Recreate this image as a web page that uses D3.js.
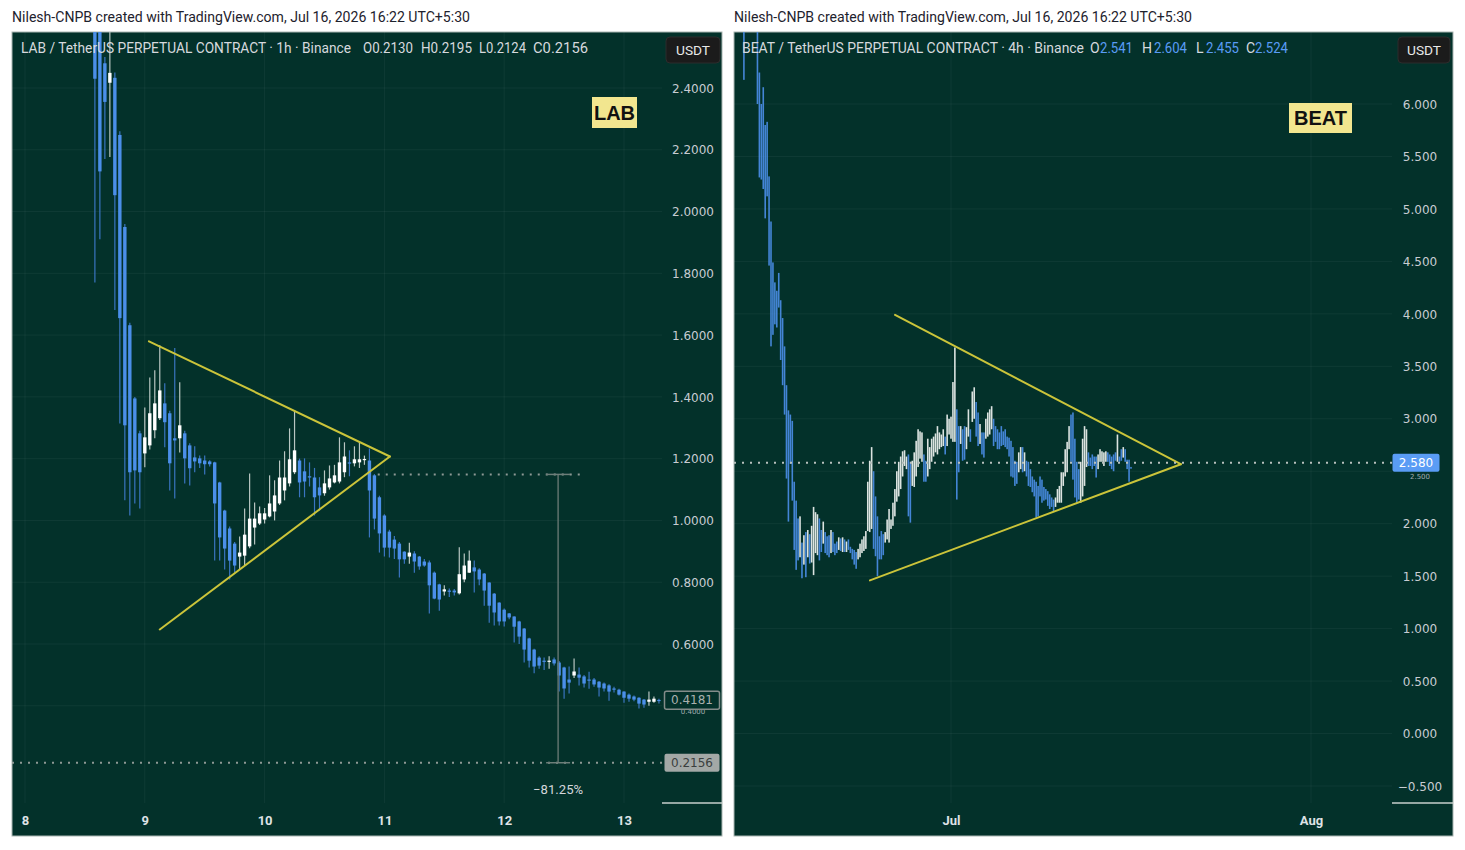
<!DOCTYPE html>
<html><head><meta charset="utf-8">
<script src="https://cdn.jsdelivr.net/npm/d3@7"></script>
<style>body{margin:0;background:#fff;}svg{display:block}</style>
</head><body><svg id="c" width="1465" height="850"></svg>
<script>
// ---------------- DATA ----------------
const creditText = "Nilesh-CNPB created with TradingView.com, Jul 16, 2026 16:22 UTC+5:30";
const labTitle = "LAB / TetherUS PERPETUAL CONTRACT · 1h · Binance";
const beatTitle = "BEAT / TetherUS PERPETUAL CONTRACT · 4h · Binance";
const ohlcKeys = ["O","H","L","C"];
const labOHLC = ["0.2130","0.2195","0.2124","0.2156"];
const beatOHLC = ["2.541","2.604","2.455","2.524"];
const labPriceTicks = [2.4,2.2,2.0,1.8,1.6,1.4,1.2,1.0,0.8,0.6,0.4];
const beatPriceTicks = [6,5.5,5,4.5,4,3.5,3,2.5,2,1.5,1,0.5,0,-0.5];
const labDayLabels = [8,9,10,11,12,13];
const beatMonthLabels = ["Jul","Aug"];
const labLast = 0.4181, labTarget = 0.2156, beatLast = 2.580;
const labMeasureTop = 1.149, labMeasurePct = "\u221281.25%";
// LAB 1h candles [open, high, low, close], first candle day 8 14:00
const labCandles = [
[2.75,2.80,1.77,2.43],[2.62,2.70,1.91,2.13],[2.48,2.50,2.17,2.355],[2.417,2.60,2.177,2.449],[2.433,2.45,1.681,2.053],
[2.248,2.26,1.314,1.655],[1.95,1.96,1.065,1.308],[1.632,1.64,1.016,1.156],[1.395,1.40,1.055,1.162],[1.282,1.29,1.039,1.156],
[1.217,1.366,1.172,1.269],[1.243,1.463,1.23,1.347],[1.292,1.486,1.266,1.379],[1.331,1.567,1.325,1.421],[1.379,1.444,1.237,1.318],
[1.347,1.355,1.097,1.185],[1.266,1.558,1.071,1.259],[1.266,1.447,1.220,1.308],[1.282,1.29,1.120,1.201],[1.243,1.25,1.113,1.169],
[1.204,1.24,1.156,1.191],[1.201,1.21,1.17,1.185],[1.194,1.21,1.149,1.182],[1.191,1.195,1.175,1.182],[1.188,1.19,0.87,1.055],
[1.123,1.125,0.870,0.945],[1.032,1.035,0.841,0.909],[0.974,0.98,0.809,0.870],[0.925,0.93,0.831,0.854],[0.883,0.948,0.841,0.896],
[0.886,1.039,0.854,0.954],[0.916,1.152,0.91,1.006],[0.977,1.058,0.922,1.006],[0.990,1.045,0.985,1.023],[1.003,1.04,0.99,1.023],
[1.013,1.146,1.01,1.055],[1.029,1.13,1.0,1.081],[1.055,1.194,1.05,1.139],[1.097,1.224,1.065,1.139],[1.120,1.298,1.11,1.198],
[1.156,1.356,1.15,1.227],[1.194,1.20,1.075,1.123],[1.159,1.201,1.075,1.126],[1.143,1.188,1.11,1.139],[1.139,1.17,1.016,1.075],
[1.107,1.14,1.032,1.081],[1.088,1.162,1.08,1.120],[1.107,1.178,1.10,1.136],[1.123,1.18,1.12,1.146],[1.126,1.269,1.12,1.188],
[1.156,1.253,1.14,1.207],[1.188,1.227,1.143,1.184],[1.185,1.240,1.175,1.198],[1.188,1.253,1.17,1.198],[1.196,1.21,1.18,1.199],
[1.194,1.233,0.945,1.097],[1.146,1.15,0.971,1.006],[1.075,1.08,0.896,0.958],[1.016,1.02,0.883,0.912],[0.964,0.97,0.88,0.912],
[0.938,0.95,0.875,0.909],[0.925,0.93,0.815,0.874],[0.899,0.90,0.86,0.874],[0.883,0.928,0.86,0.896],[0.893,0.90,0.831,0.867],
[0.883,0.885,0.84,0.851],[0.867,0.875,0.85,0.854],[0.864,0.87,0.699,0.790],[0.831,0.835,0.745,0.747],[0.793,0.795,0.708,0.744],
[0.770,0.79,0.757,0.777],[0.773,0.78,0.752,0.770],[0.773,0.778,0.757,0.767],[0.764,0.913,0.76,0.826],[0.809,0.893,0.80,0.854],
[0.831,0.903,0.83,0.870],[0.848,0.870,0.767,0.835],[0.841,0.845,0.79,0.809],[0.828,0.83,0.724,0.773],[0.799,0.80,0.669,0.724],
[0.763,0.765,0.66,0.702],[0.734,0.735,0.66,0.673],[0.711,0.715,0.657,0.673],[0.699,0.70,0.68,0.686],[0.689,0.69,0.605,0.656],
[0.673,0.675,0.60,0.624],[0.650,0.652,0.540,0.582],[0.618,0.62,0.524,0.546],[0.582,0.585,0.505,0.527],[0.556,0.56,0.52,0.530],
[0.546,0.556,0.516,0.543],[0.543,0.56,0.52,0.546],[0.550,0.556,0.53,0.537],[0.540,0.545,0.446,0.498],[0.524,0.526,0.423,0.456],
[0.485,0.527,0.44,0.475],[0.498,0.553,0.49,0.511],[0.501,0.524,0.466,0.491],[0.495,0.50,0.459,0.472],[0.485,0.51,0.455,0.482],
[0.485,0.49,0.462,0.469],[0.478,0.48,0.43,0.459],[0.472,0.475,0.446,0.456],[0.466,0.47,0.416,0.446],[0.456,0.462,0.443,0.452],
[0.452,0.455,0.433,0.436],[0.446,0.447,0.41,0.426],[0.436,0.44,0.413,0.423],[0.430,0.433,0.415,0.420],[0.426,0.428,0.391,0.407],
[0.420,0.422,0.394,0.404],[0.413,0.446,0.40,0.420],[0.413,0.43,0.41,0.423],[0.4190,0.423,0.407,0.4181]
];
// BEAT 4h candles [open, close], first candle Jun 13 04:00
const beatCandles = [
[7.20,6.23],[7.30,7.05],[7.05,7.35],[7.35,7.00],[7.00,7.20],[7.20,6.90],[6.95,6.78],[6.85,6.00],[6.30,5.30],[6.00,5.28],
[6.16,5.19],[5.80,4.91],[5.83,5.12],[5.31,4.46],[4.88,3.69],[4.49,3.80],[4.30,3.90],[4.22,3.87],[4.39,4.06],[4.13,3.56],
[3.96,3.32],[3.69,3.04],[3.32,2.43],[3.08,2.02],[3.04,2.57],[2.98,2.22],[2.40,1.75],[2.22,1.56],[2.05,1.65],[1.68,2.07],
[1.82,1.48],[1.61,1.89],[1.92,1.49],[1.68,1.94],[1.90,1.62],[1.63,1.98],[1.51,2.16],[1.72,2.11],[1.70,2.09],[2.05,1.65],
[1.94,1.73],[1.81,2.02],[1.92,1.72],[1.88,1.70],[1.89,1.68],[1.72,1.94],[1.92,1.73],[1.81,1.70],[1.83,1.72],[1.75,1.87],
[1.86,1.74],[1.73,1.87],[1.85,1.73],[1.73,1.83],[1.85,1.75],[1.78,1.72],[1.76,1.66],[1.75,1.61],[1.73,1.57],[1.66,1.76],
[1.68,1.81],[1.72,1.85],[1.74,1.88],[1.76,1.93],[1.93,2.40],[1.92,2.60],[1.95,2.73],[2.50,1.76],[2.26,1.69],[2.07,1.50],
[1.88,1.66],[1.93,1.66],[1.90,1.70],[1.82,1.92],[1.85,2.04],[1.82,2.14],[1.95,2.04],[1.98,2.20],[2.07,2.33],[2.21,2.50],
[2.26,2.59],[2.33,2.64],[2.45,2.69],[2.55,2.70],[2.52,2.64],[2.66,2.07],[2.59,2.01],[2.36,2.60],[2.35,2.68],[2.45,2.79],
[2.54,2.90],[2.62,2.88],[2.59,2.87],[2.66,2.40],[2.60,2.40],[2.45,2.81],[2.52,2.73],[2.59,2.81],[2.64,2.83],[2.68,2.86],
[2.66,2.93],[2.71,2.87],[2.73,2.85],[2.74,2.90],[2.83,2.66],[2.74,3.04],[2.85,3.00],[2.81,3.02],[2.78,3.35],[2.78,3.68],
[3.09,2.23],[2.93,2.49],[2.76,2.93],
[2.90,2.60],[2.93,2.61],[2.71,2.92],[2.83,3.09],[2.90,2.78],[2.97,3.26],[3.00,3.30],[3.16,2.83],[3.06,2.74],[2.76,2.95],
[2.87,2.66],[2.87,2.63],[2.81,3.00],[2.83,3.06],[2.85,3.09],[2.90,3.12],[3.00,2.74],[2.93,2.78],[2.90,2.71],[2.87,2.71],
[2.93,2.74],[2.88,2.75],[2.90,2.73],[2.83,2.71],[2.82,2.64],[2.79,2.45],[2.73,2.44],[2.60,2.36],[2.59,2.38],[2.49,2.68],
[2.52,2.73],[2.73,2.49],[2.50,2.68],[2.60,2.45],[2.59,2.36],[2.52,2.35],[2.45,2.30],[2.42,2.26],[2.40,2.06],[2.36,2.07],
[2.45,2.26],[2.42,2.20],[2.35,2.22],[2.33,2.23],[2.31,2.17],[2.28,2.14],[2.25,2.16],[2.23,2.12],[2.16,2.25],[2.20,2.33],
[2.20,2.36],[2.20,2.49],[2.36,2.49],[2.45,2.71],[2.49,2.78],[2.71,2.93],[3.04,2.59],[3.06,2.42],[2.81,2.25],[2.59,2.20],
[2.52,2.23],[2.20,2.59],[2.26,2.81],[2.36,2.93],[2.54,2.90],[2.68,2.55],[2.63,2.55],[2.66,2.52],[2.64,2.55],[2.64,2.44],
[2.52,2.66],[2.59,2.71],[2.59,2.69],[2.55,2.68],[2.59,2.69],[2.68,2.59],[2.66,2.55],[2.64,2.52],[2.66,2.50],[2.68,2.60],
[2.59,2.85],[2.64,2.59],[2.71,2.60],[2.63,2.73],[2.71,2.59],[2.61,2.52],[2.61,2.40],[2.541,2.524]
];
// Triangle pattern lines: [time, price] of start points and apex
const labTriUpper = [[Date.UTC(2026,6,9,0,50),1.580],[Date.UTC(2026,6,11,1,6),1.207]];
const labTriLower = [[Date.UTC(2026,6,9,3,0),0.647],[Date.UTC(2026,6,11,1,6),1.207]];
const beatTriUpper = [[Date.UTC(2026,5,26,4,20),3.99],[Date.UTC(2026,6,20,19,0),2.567]];
const beatTriLower = [[Date.UTC(2026,5,24,0,30),1.46],[Date.UTC(2026,6,20,19,0),2.567]];
const labMeasureTimes = {line: Date.UTC(2026,6,12,10,48), from: Date.UTC(2026,6,10,22,40), to: Date.UTC(2026,6,12,15,10)};

// ---------------- SETUP ----------------
const HOUR = 3600e3;
const svg = d3.select("#c");
const BG = "#03312a", GRID = "rgba(255,255,255,0.05)";
const BLUE = "#4b8fe9", BLUE_W = "#3a75c0", WHITE = "#ffffff", WHITE_W = "#b9c6c2";
const TXT = "#d6d9de", AXT = "#c8ccd2";
const panels = [
  {x0:12, x1:722, pr:662, y0:32, y1:836, ax:803},
  {x0:734, x1:1453, pr:1392, y0:32, y1:836, ax:803}
];
const labX = d3.scaleUtc().domain([Date.UTC(2026,6,8), Date.UTC(2026,6,13)]).range([25,624]);
const labY = d3.scaleLinear().domain([0.6,2.4]).range([644,88]);
const beatX = d3.scaleUtc().domain([Date.UTC(2026,6,1), Date.UTC(2026,7,1)]).range([951,1311]);
const beatY = d3.scaleLinear().domain([-0.5,6]).range([786,104]);
const labStart = Date.UTC(2026,6,8,14);
const beatStart = Date.UTC(2026,6,1) - 107*4*HOUR;
const labDates = labDayLabels.map(d=>new Date(Date.UTC(2026,6,d)));
const beatDates = [new Date(Date.UTC(2026,6,1)), new Date(Date.UTC(2026,7,1))];

function T(x,y,s,o={}){
  const t = svg.append("text").attr("x",x).attr("y",y).text(s)
    .attr("font-family",o.ff||"Roboto, 'Liberation Sans', sans-serif")
    .attr("font-size",o.fs||14).attr("fill",o.fill||TXT);
  if(o.w) t.attr("textLength",o.w).attr("lengthAdjust","spacingAndGlyphs");
  if(o.anchor) t.attr("text-anchor",o.anchor);
  if(o.fw) t.attr("font-weight",o.fw);
  return t;
}

// panel backgrounds
panels.forEach((p,i)=>{
  svg.append("rect").attr("x",p.x0).attr("y",p.y0).attr("width",p.x1-p.x0).attr("height",p.y1-p.y0)
    .attr("fill",BG).attr("stroke","#aab6b2").attr("stroke-width",1);
  svg.append("clipPath").attr("id","clip"+i).append("rect")
    .attr("x",p.x0).attr("y",p.y0).attr("width",p.pr-p.x0).attr("height",p.ax-p.y0);
});

// grids
function grid(p, yScale, ticks, xScale, dates){
  const g = svg.append("g").attr("clip-path", "url(#clip"+panels.indexOf(p)+")");
  g.selectAll("line.h").data(ticks).join("line")
    .attr("x1",p.x0).attr("x2",p.pr).attr("y1",d=>yScale(d)).attr("y2",d=>yScale(d))
    .attr("stroke",GRID).attr("stroke-width",1);
  g.selectAll("line.v").data(dates).join("line")
    .attr("x1",d=>xScale(d)).attr("x2",d=>xScale(d)).attr("y1",p.y0).attr("y2",p.ax)
    .attr("stroke",GRID).attr("stroke-width",1);
}
grid(panels[0], labY, labPriceTicks, labX, labDates);
grid(panels[1], beatY, beatPriceTicks, beatX, beatDates);

// ---------------- LAB candles ----------------
const lab = labCandles.map((d,i)=>({t:new Date(labStart+i*HOUR), o:d[0], h:d[1], l:d[2], c:d[3]}));
const gL = svg.append("g").attr("clip-path","url(#clip0)");
gL.selectAll("line.w").data(lab).join("line")
  .attr("x1",d=>labX(d.t)).attr("x2",d=>labX(d.t))
  .attr("y1",d=>labY(d.h)).attr("y2",d=>labY(d.l))
  .attr("stroke",d=>d.c>=d.o?WHITE_W:BLUE_W).attr("stroke-width",1.2);
gL.selectAll("rect.b").data(lab).join("rect")
  .attr("x",d=>labX(d.t)-1.7).attr("width",3.4)
  .attr("y",d=>labY(Math.max(d.o,d.c)))
  .attr("height",d=>Math.max(1.2,Math.abs(labY(d.o)-labY(d.c))))
  .attr("fill",d=>d.c>=d.o?WHITE:BLUE);

// ---------------- BEAT candles ----------------
const beat = beatCandles.map((d,i)=>({t:new Date(beatStart+i*4*HOUR), o:d[0], c:d[1]}));
const gR = svg.append("g").attr("clip-path","url(#clip1)");
gR.selectAll("rect.b").data(beat).join("rect")
  .attr("x",d=>beatX(d.t)-0.8).attr("width",1.6)
  .attr("y",d=>beatY(Math.max(d.o,d.c)))
  .attr("height",d=>Math.max(1.2,Math.abs(beatY(d.o)-beatY(d.c))))
  .attr("fill",d=>d.c>=d.o?"#eef2f0":BLUE).attr("opacity",d=>d.c>=d.o?0.92:0.9);

// ---------------- triangles ----------------
const YEL = "#cbc43a";
function seg(g, pts, xs, ys){
  g.append("line").attr("x1",xs(pts[0][0])).attr("y1",ys(pts[0][1]))
    .attr("x2",xs(pts[1][0])).attr("y2",ys(pts[1][1]))
    .attr("stroke",YEL).attr("stroke-width",2).attr("stroke-linecap","round");
}
seg(gL, labTriUpper, labX, labY); seg(gL, labTriLower, labX, labY);
seg(gR, beatTriUpper, beatX, beatY); seg(gR, beatTriLower, beatX, beatY);

// ---------------- LAB measure & target lines ----------------
const DOT = "#8e9995";
gL.append("line").attr("x1",panels[0].x0).attr("x2",panels[0].pr)
  .attr("y1",labY(labTarget)).attr("y2",labY(labTarget))
  .attr("stroke",DOT).attr("stroke-width",2).attr("stroke-dasharray","2 6");
gL.append("line").attr("x1",labX(labMeasureTimes.from)).attr("x2",labX(labMeasureTimes.to))
  .attr("y1",labY(labMeasureTop)).attr("y2",labY(labMeasureTop))
  .attr("stroke",DOT).attr("stroke-width",2).attr("stroke-dasharray","2 6");
const mx = labX(labMeasureTimes.line);
gL.append("line").attr("x1",mx).attr("x2",mx).attr("y1",labY(labMeasureTop)).attr("y2",labY(labTarget))
  .attr("stroke","#5f726d").attr("stroke-width",1.5);
[labMeasureTop, labTarget].forEach(v=>{
  gL.append("line").attr("x1",mx-12).attr("x2",mx+12).attr("y1",labY(v)).attr("y2",labY(v))
    .attr("stroke","#6d7e79").attr("stroke-width",1.5);
});
T(mx, 794, labMeasurePct, {fs:13, anchor:"middle", fill:"#d3d6db", w:50});

// BEAT last price dotted line
gR.append("line").attr("x1",panels[1].x0).attr("x2",panels[1].pr)
  .attr("y1",beatY(beatLast)).attr("y2",beatY(beatLast))
  .attr("stroke","#b8c0bd").attr("stroke-width",2).attr("stroke-dasharray","2 6");

// ---------------- price axes ----------------
function priceAxis(p, yScale, ticks, fmt, cx, hidden){
  const ax = d3.axisRight(yScale).tickValues(ticks).tickFormat(fmt).tickSize(0);
  const g = svg.append("g").attr("transform",`translate(${p.pr},0)`).call(ax);
  g.select(".domain").remove();
  g.selectAll("text").attr("x",cx-p.pr).attr("dy","0.35em").attr("text-anchor","middle")
    .attr("font-family","'DejaVu Sans', Verdana, sans-serif").attr("font-size",12).attr("fill",AXT);
  // tick labels mostly covered by a price box: keep only their visible lower sliver
  g.selectAll(".tick").filter(d=>hidden.includes(d)).select("text")
    .attr("font-size",7).attr("dy","1.1em").attr("opacity",0.8);
  svg.append("line").attr("x1",p.pr).attr("x2",p.x1).attr("y1",p.ax).attr("y2",p.ax)
    .attr("stroke","#c9cfcd").attr("stroke-width",1.5);
}
priceAxis(panels[0], labY, labPriceTicks, d3.format(".4f"), 693, [0.4]);
priceAxis(panels[1], beatY, beatPriceTicks, d3.format(".3f"), 1420, [2.5]);

// time axes
function timeAxis(p, xScale, dates, labels){
  const ax = d3.axisBottom(xScale).tickValues(dates).tickFormat((d,i)=>labels[i]).tickSize(0);
  const g = svg.append("g").attr("transform",`translate(0,${p.ax})`).call(ax);
  g.select(".domain").remove();
  g.selectAll("text").attr("y",17).attr("dy","0.35em")
    .attr("font-family","Roboto, sans-serif").attr("font-weight","bold").attr("font-size",13).attr("fill","#dfe2e6");
}
timeAxis(panels[0], labX, labDates, labDayLabels);
timeAxis(panels[1], beatX, beatDates, beatMonthLabels);

// ---------------- price label boxes ----------------
function box(xc, y, w, txt, fill, stroke, color){
  svg.append("rect").attr("x",xc-w/2).attr("y",y-9).attr("width",w).attr("height",18).attr("rx",2)
    .attr("fill",fill).attr("stroke",stroke).attr("stroke-width",stroke==="none"?0:1.5);
  T(xc, y, txt, {ff:"'DejaVu Sans', Verdana, sans-serif", fs:12, anchor:"middle", fill:color}).attr("dy","0.35em");
}
box(692, labY(labLast), 55, d3.format(".4f")(labLast), BG, "#838c89", "#a9b0ae");
box(692, labY(labTarget), 55, d3.format(".4f")(labTarget), "#a3a8a6", "none", "#3b3f3e");
box(1416, beatY(beatLast), 47, d3.format(".3f")(beatLast), "#5a9cf5", "none", "#ffffff");

// USDT buttons
[[666,720],[1398,1450]].forEach(([a,b])=>{
  svg.append("rect").attr("x",a).attr("y",37).attr("width",b-a).attr("height",26).attr("rx",4)
    .attr("fill","#1b1b1b").attr("stroke","#2c2c2c");
  T((a+b)/2, 55, "USDT", {fs:13, anchor:"middle", fill:"#e8e8e8", w:34});
});

// symbol tag boxes
function tag(x,y,w,h,s){
  svg.append("rect").attr("x",x).attr("y",y).attr("width",w).attr("height",h).attr("fill","#f2e68f");
  T(x+w/2, y+h/2+7, s, {ff:"'Liberation Sans', Arial, sans-serif", fs:20, fw:"bold", anchor:"middle", fill:"#111"});
}
tag(592,97,45,31,"LAB");
tag(1289,103,63,30,"BEAT");

// ---------------- header texts ----------------
T(12, 22, creditText, {fs:14, fill:"#1e222d", w:458});
T(734, 22, creditText, {fs:14, fill:"#1e222d", w:458});
T(21, 53, labTitle, {fs:14, w:330});
const labPos = [363,421,479,533], labW=[50,51,47,55];
labOHLC.forEach((v,i)=>{ T(labPos[i],53,ohlcKeys[i]+v,{fs:14,w:labW[i]}); });
T(742, 53, beatTitle, {fs:14, w:342});
const bk = [1090,1142,1196,1246], bv=[1100,1154,1206,1255];
beatOHLC.forEach((v,i)=>{
  T(bk[i],53,ohlcKeys[i],{fs:14});
  T(bv[i],53,v,{fs:14,w:33,fill:"#5a9cf5"});
});
</script></body></html>
